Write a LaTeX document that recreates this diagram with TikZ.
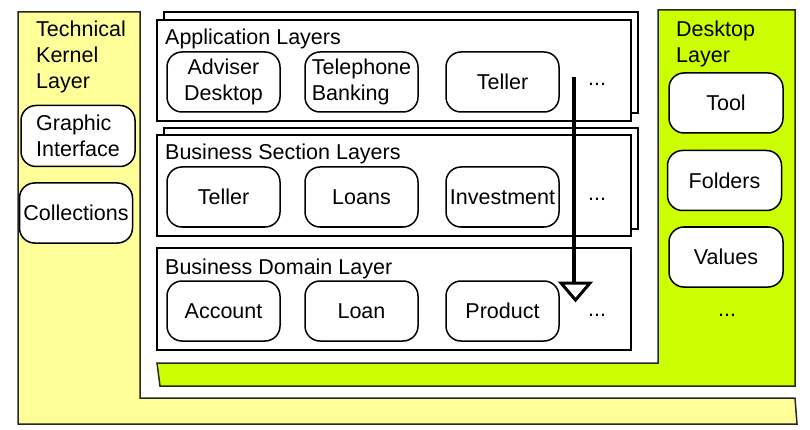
\documentclass[tikz,border=0pt]{standalone}
\usepackage{fontspec}
\setmainfont{Liberation Sans}
\definecolor{kernelyellow}{HTML}{FFFF99}
\definecolor{desktopgreen}{HTML}{CCFF00}
\begin{document}
\begin{tikzpicture}[x=1pt,y=-1pt,
  fs/.style={font=\fontsize{21.5}{26}\selectfont},
  rbox/.style={draw, line width=1.5pt, rounded corners=15pt, fill=white,
    minimum width=113pt, minimum height=60pt, inner sep=0pt, fs, align=center},
  layerframe/.style={draw, line width=1.5pt, fill=white},
  layertitle/.style={fs, inner sep=0pt, anchor=base west},
  sidetitle/.style={fs, inner sep=0pt, anchor=north west, align=left},
  dots/.style={fs, inner sep=0pt},
  outline/.style={draw=black!85, line width=1.5pt}]
\useasboundingbox (0,0) rectangle (810,430);
% Technical kernel (yellow L)
\path[outline, fill=kernelyellow] (18,12) -- (140,12) -- (140,398) -- (795,398)
  -- (797,424) -- (18,424) -- cycle;
% Desktop layer (green L)
\path[outline, fill=desktopgreen] (658,10) -- (795,10) -- (795,386) -- (160,386)
  -- (157,363) -- (658,363) -- cycle;
% Application layers frames
\draw[layerframe] (164,12) rectangle (638,113);
\draw[layerframe] (157,20) rectangle (631,121);
% Business section frames
\draw[layerframe] (164,128) rectangle (638,229);
\draw[layerframe] (157,135) rectangle (631,236);
% Business domain frame
\draw[layerframe] (157,248) rectangle (631,350);

\node[layertitle] (apptitle) at (165,45) {Application Layers};
\node[layertitle] (sectitle) at (165,160) {Business Section Layers};
\node[layertitle] (domtitle) at (165,274) {Business Domain Layer};

\node[rbox] (adviser) at (223.5,82) {Adviser\\Desktop};
\node[rbox, align=left] (telephone) at (361.5,82) {Telephone\\Banking};
\node[rbox] (appteller) at (502.5,82) {Teller};
\node[dots] (appdots) at (597,84) {...};

\node[rbox] (secteller) at (223.5,197) {Teller};
\node[rbox] (loans) at (361.5,197) {Loans};
\node[rbox] (investment) at (502.5,197) {Investment};
\node[dots] (secdots) at (597,199) {...};

\node[rbox] (account) at (223.5,311) {Account};
\node[rbox] (loan) at (361.5,311) {Loan};
\node[rbox] (product) at (502.5,311) {Product};
\node[dots] (domdots) at (597,315) {...};

% Kernel side
\node[sidetitle] (kerneltitle) at (36,21) {Technical\\Kernel\\Layer};
\node[rbox, align=left, minimum width=114pt, minimum height=61pt] (graphic) at (78,136) {Graphic\\Interface};
\node[rbox] (collections) at (76,213) {Collections};

% Desktop side
\node[sidetitle] (desktoptitle) at (676,21) {Desktop\\Layer};
\node[rbox, minimum width=114pt] (tool) at (726,103) {Tool};
\node[rbox, minimum width=114pt] (folders) at (724.5,180.5) {Folders};
\node[rbox, minimum width=114pt] (values) at (726,257) {Values};
\node[dots] (deskdots) at (727,315) {...};

% Arrow
\coordinate (arrowtop) at (574,77);
\coordinate (arrowbase) at (574,283);
\coordinate (tipleft) at (561,283);
\coordinate (tipright) at (590,283);
\coordinate (tip) at (575.5,300);
\draw[line width=4pt] (arrowtop) -- (arrowbase);
\draw[line width=3pt, fill=white, line join=miter] (tipleft) -- (tipright) -- (tip) -- cycle;
\end{tikzpicture}
\end{document}
